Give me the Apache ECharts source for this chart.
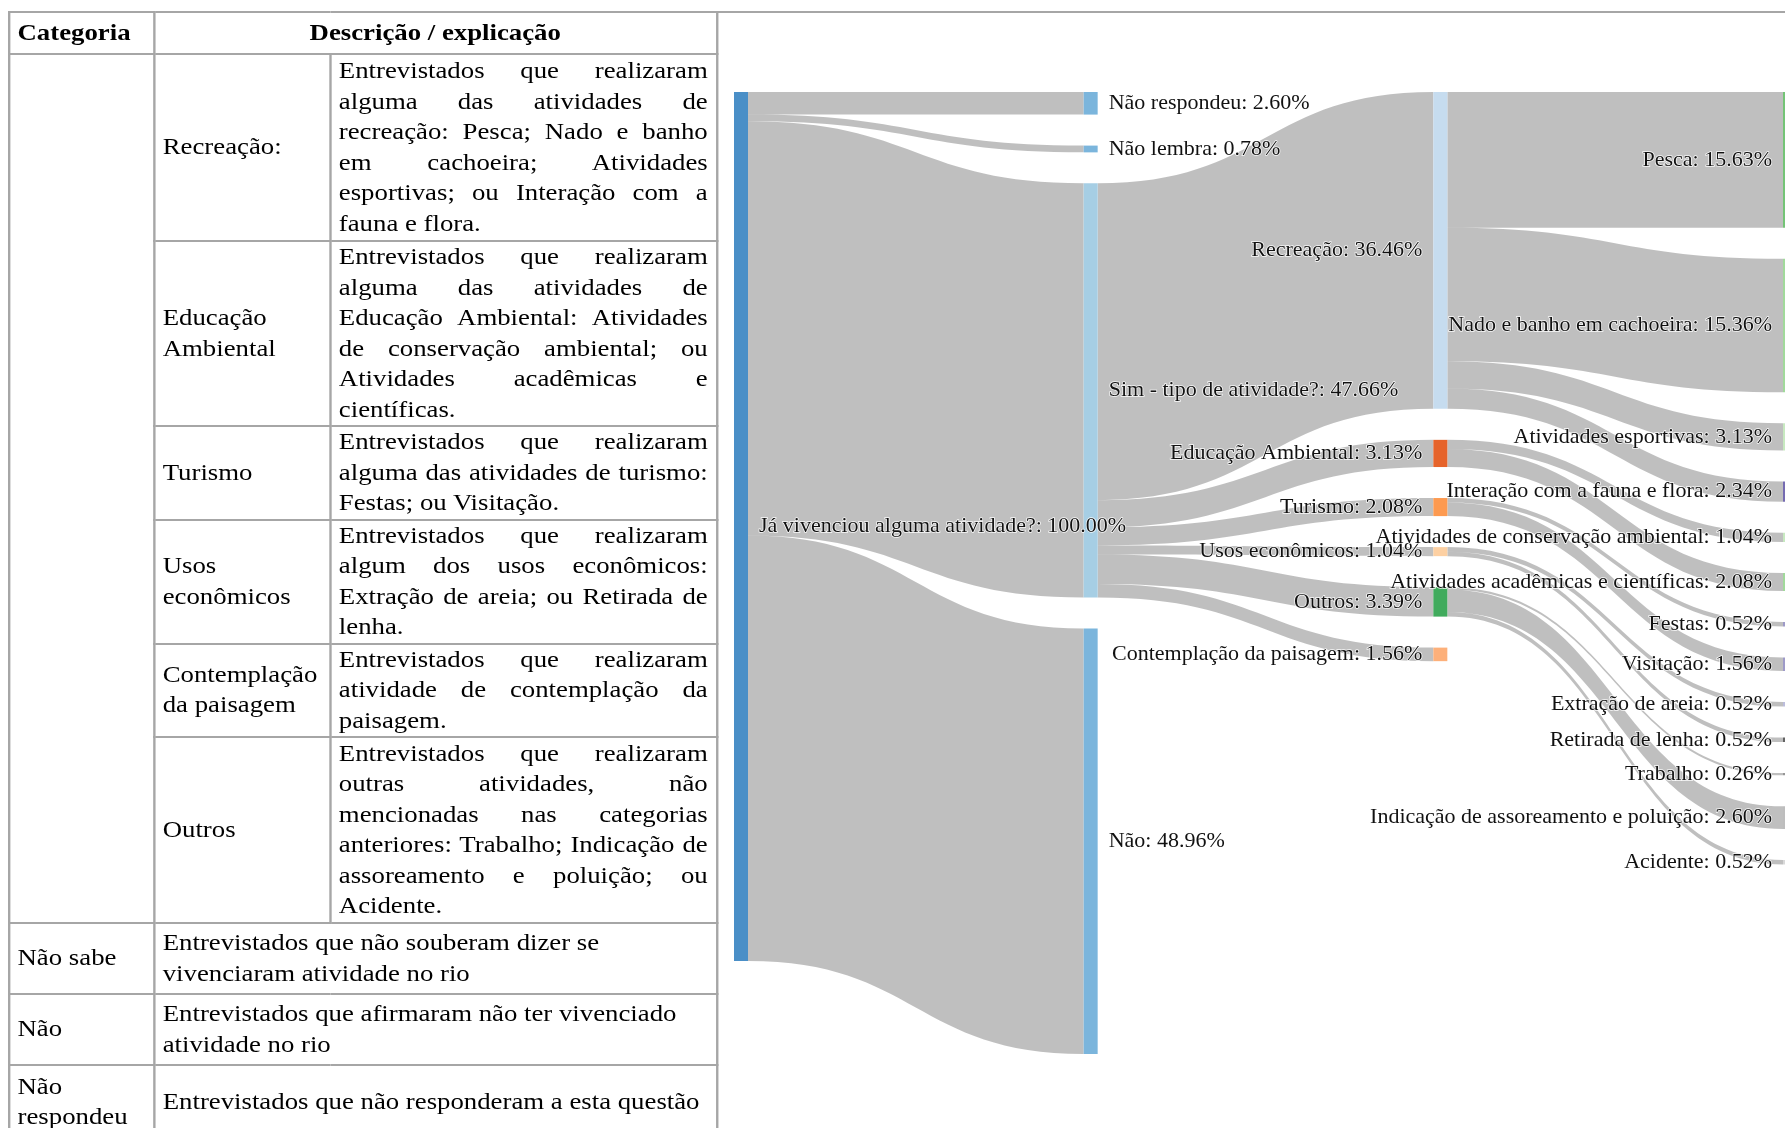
<!DOCTYPE html>
<html><head><meta charset="utf-8">
<script src="https://cdn.jsdelivr.net/npm/echarts@6/dist/echarts.min.js"></script>
<style>
html,body{margin:0;padding:0;width:1785px;height:1128px;overflow:hidden;background:#fff;}
#chart{position:absolute;left:0;top:0;width:1785px;height:1128px;}
#topline{position:absolute;left:717px;top:11px;width:1068px;height:0;border-top:2px solid #a6a6a6;}
#tblwrap{position:absolute;left:8px;top:11px;transform-origin:0 0;transform:scaleX(1.19);}
table{border-collapse:collapse;font-family:'Liberation Serif','Times New Roman',serif;font-size:22.5px;line-height:30.5px;color:#000;table-layout:fixed;width:595px;}
td,th{border:2px solid #a6a6a6;padding:0 7px 0 6px;vertical-align:middle;text-align:left;overflow:visible;}
th{font-weight:bold;}
th.c{text-align:center;}
.j{white-space:nowrap;text-align:justify;text-align-last:justify;}
.l{white-space:nowrap;text-align:left;}
</style></head>
<body>
<div id="chart"></div>
<div id="topline"></div>
<div id="tblwrap"><table id="tbl"></table></div>
<script>
// ---- table text ----
const headerCols = ['Categoria', 'Descrição / explicação'];
const subCategories = [['Recreação:'], ['Educação', 'Ambiental'], ['Turismo'], ['Usos', 'econômicos'], ['Contemplação', 'da paisagem'], ['Outros']];
const subDescriptions = [
  ['Entrevistados que realizaram', 'alguma das atividades de', 'recreação: Pesca; Nado e banho', 'em cachoeira; Atividades', 'esportivas; ou Interação com a', 'fauna e flora.'],
  ['Entrevistados que realizaram', 'alguma das atividades de', 'Educação Ambiental: Atividades', 'de conservação ambiental; ou', 'Atividades acadêmicas e', 'científicas.'],
  ['Entrevistados que realizaram', 'alguma das atividades de turismo:', 'Festas; ou Visitação.'],
  ['Entrevistados que realizaram', 'algum dos usos econômicos:', 'Extração de areia; ou Retirada de', 'lenha.'],
  ['Entrevistados que realizaram', 'atividade de contemplação da', 'paisagem.'],
  ['Entrevistados que realizaram', 'outras atividades, não', 'mencionadas nas categorias', 'anteriores: Trabalho; Indicação de', 'assoreamento e poluição; ou', 'Acidente.']
];
const mainCategories = [['Não sabe'], ['Não'], ['Não', 'respondeu']];
const mainDescriptions = [
  ['Entrevistados que não souberam dizer se', 'vivenciaram atividade no rio'],
  ['Entrevistados que afirmaram não ter vivenciado', 'atividade no rio'],
  ['Entrevistados que não responderam a esta questão']
];

// ---- sankey data ----
const nodeNames = ['Já vivenciou alguma atividade?', 'Não respondeu', 'Não lembra', 'Sim - tipo de atividade?', 'Não',
  'Recreação', 'Educação Ambiental', 'Turismo', 'Usos econômicos', 'Outros', 'Contemplação da paisagem',
  'Pesca', 'Nado e banho em cachoeira', 'Atividades esportivas', 'Interação com a fauna e flora',
  'Atividades de conservação ambiental', 'Atividades acadêmicas e científicas', 'Festas', 'Visitação',
  'Extração de areia', 'Retirada de lenha', 'Trabalho', 'Indicação de assoreamento e poluição', 'Acidente'];
const nodeValues = [100.00, 2.60, 0.78, 47.66, 48.96, 36.46, 3.13, 2.08, 1.04, 3.39, 1.56,
  15.63, 15.36, 3.13, 2.34, 1.04, 2.08, 0.52, 1.56, 0.52, 0.52, 0.26, 2.60, 0.52];
const linkSources = [0, 0, 0, 0, 3, 3, 3, 3, 3, 3, 5, 5, 5, 5, 6, 6, 7, 7, 8, 8, 9, 9, 9];
const linkTargets = [1, 2, 3, 4, 5, 6, 7, 8, 9, 10, 11, 12, 13, 14, 15, 16, 17, 18, 19, 20, 21, 22, 23];
const linkValues = [2.60, 0.78, 47.66, 48.96, 36.46, 3.13, 2.08, 1.04, 3.39, 1.56,
  15.63, 15.36, 3.13, 2.34, 1.04, 2.08, 0.52, 1.56, 0.52, 0.52, 0.26, 2.60, 0.52];

// styles (not data)
const nodeColors = ['#4a8fc7', '#7bb5dc', '#7bb5dc', '#a6cee4', '#7bb5dc',
  '#c6dcef', '#e6632a', '#fd9a50', '#fdd0a2', '#41ab5d', '#fdb07a',
  '#74c476', '#a1d99b', '#c7e9c0', '#756bb1', '#c7e9c0', '#a1d99b', '#9e9ac8', '#9e9ac8',
  '#bcbddc', '#636363', '#969696', '#bdbdbd', '#d9d9d9'];
const nodeLabelSide = ['right', 'right', 'right', 'right', 'right',
  'left', 'left', 'left', 'left', 'left', 'left',
  'left', 'left', 'left', 'left', 'left', 'left', 'left', 'left', 'left', 'left', 'left', 'left', 'left'];

// ---- build table ----
function cellLines(lines, cls) { return lines.map(t => '<div class="' + cls + '">' + t + '</div>').join(''); }
function descLines(lines) {
  return lines.map((t, i) => '<div class="' + (i < lines.length - 1 ? 'j' : 'l') + '">' + t + '</div>').join('');
}
const subRowHeights = [187, 183, 93, 123, 92, 186];
const mainRowHeights = [71, 71, 74];
let html = '<colgroup><col style="width:122px"><col style="width:148px"><col style="width:325px"></colgroup>';
html += '<tr style="height:42px"><th>' + headerCols[0] + '</th><th class="c" colspan="2">' + headerCols[1] + '</th></tr>';
subCategories.forEach((c, i) => {
  html += '<tr style="height:' + subRowHeights[i] + 'px">';
  if (i === 0) html += '<td rowspan="' + subCategories.length + '"></td>';
  html += '<td>' + cellLines(c, 'l') + '</td><td>' + descLines(subDescriptions[i]) + '</td></tr>';
});
mainCategories.forEach((c, i) => {
  html += '<tr style="height:' + mainRowHeights[i] + 'px"><td>' + cellLines(c, 'l') + '</td><td colspan="2">' + cellLines(mainDescriptions[i], 'l') + '</td></tr>';
});
document.getElementById('tbl').innerHTML = html;

// ---- sankey ----
const chart = echarts.init(document.getElementById('chart'), null, {renderer: 'canvas'});
const data = nodeNames.map((n, i) => ({
  name: n, value: nodeValues[i],
  itemStyle: {color: nodeColors[i]},
  label: {position: nodeLabelSide[i]}
}));
const links = linkSources.map((s, i) => ({source: nodeNames[s], target: nodeNames[linkTargets[i]], value: linkValues[i]}));
chart.setOption({
  animation: false,
  series: [{
    type: 'sankey',
    left: 734, right: -12, top: 92, bottom: 74,
    nodeWidth: 14, nodeGap: 31, nodeAlign: 'left',
    layoutIterations: 0,
    draggable: false,
    emphasis: {disabled: true},
    itemStyle: {borderWidth: 0},
    lineStyle: {color: '#000', opacity: 0.25, curveness: 0.5},
    label: {
      fontFamily: 'Liberation Serif', fontSize: 22, color: '#111', distance: 11,
      textBorderColor: 'rgba(255,255,255,0.9)', textBorderWidth: 1.5,
      formatter: p => p.name + ': ' + p.value.toFixed(2) + '%'
    },
    data: data,
    links: links
  }]
});
</script>
</body></html>
